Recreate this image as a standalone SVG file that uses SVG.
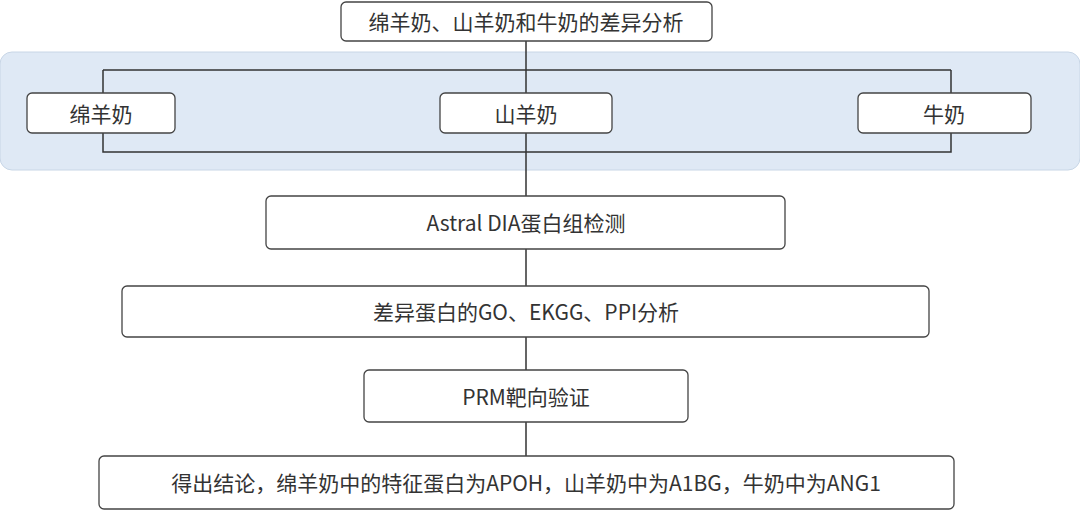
<svg xmlns="http://www.w3.org/2000/svg" width="1080" height="512" viewBox="0 0 1080 512">
<style>
.b{fill:#fff;stroke:#444;stroke-width:1.3}
.t{font-family:"Noto Sans CJK SC","Noto Sans",sans-serif;font-size:21px;fill:#333;text-anchor:middle;dominant-baseline:central}
.c{stroke:#333;stroke-width:1.5;fill:none}
</style>
<rect x="0" y="52" width="1080" height="118" rx="12" fill="#dfe9f5" stroke="#c8d6e6"/>
<g id="connectors">
<path class="c" d="M526 41V196M103 70H951M103 70V93M951 70V93M103 133V152H951V133M526 249V286M526 337V370M526 422V456"/>
</g>
<g id="n1"><rect class="b" x="341" y="2" width="371" height="39" rx="5"/><text class="t" x="526" y="21">绵羊奶、山羊奶和牛奶的差异分析</text></g>
<g id="n2"><rect class="b" x="27" y="93" width="148" height="40" rx="5"/><text class="t" x="101" y="113">绵羊奶</text></g>
<g id="n3"><rect class="b" x="440" y="93" width="172" height="40" rx="5"/><text class="t" x="526" y="113">山羊奶</text></g>
<g id="n4"><rect class="b" x="858" y="93" width="173" height="40" rx="5"/><text class="t" x="944" y="113">牛奶</text></g>
<g id="n5"><rect class="b" x="266" y="196" width="519" height="53" rx="5"/><text class="t" x="526" y="222">Astral DIA蛋白组检测</text></g>
<g id="n6"><rect class="b" x="122" y="286" width="807" height="51" rx="5"/><text class="t" x="526" y="311">差异蛋白的GO、EKGG、PPI分析</text></g>
<g id="n7"><rect class="b" x="364" y="370" width="324" height="52" rx="5"/><text class="t" x="526" y="396">PRM靶向验证</text></g>
<g id="n8"><rect class="b" x="99" y="456" width="855" height="53" rx="5"/><text class="t" x="526" y="482">得出结论，绵羊奶中的特征蛋白为APOH，山羊奶中为A1BG，牛奶中为ANG1</text></g>
</svg>
